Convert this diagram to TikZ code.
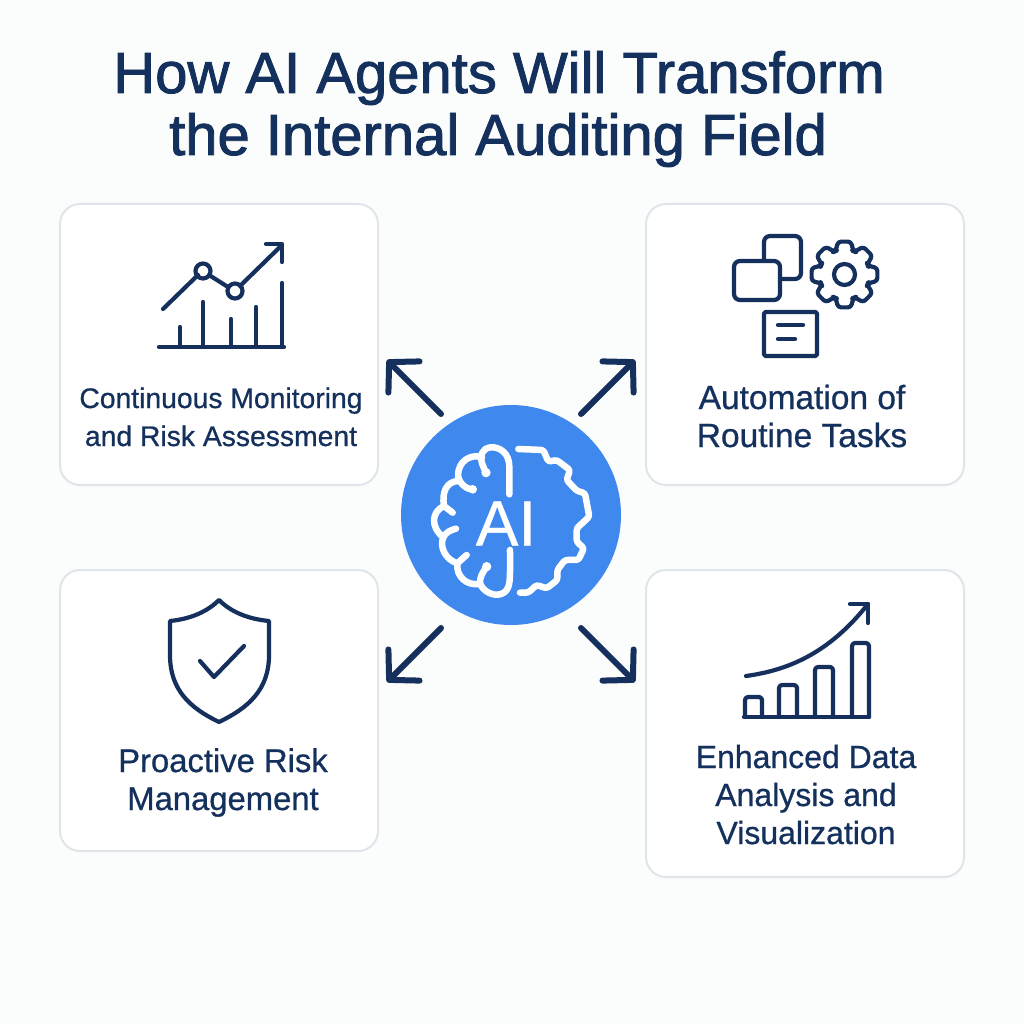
\documentclass[tikz,border=0pt]{standalone}
\usepackage{fontspec}
\setmainfont{Liberation Sans}
\newfontfamily\titlefont[FakeBold=1.6]{Liberation Sans}
\newfontfamily\labelfont[FakeBold=0.7]{Liberation Sans}
\newfontfamily\aifont[FakeBold=0.5]{Liberation Sans}
\usetikzlibrary{arrows.meta}
\definecolor{navy}{HTML}{16305E}
\definecolor{titlenavy}{HTML}{14305C}
\definecolor{cardline}{HTML}{DFE5EA}
\definecolor{pagebg}{HTML}{FBFCFC}
\definecolor{hubblue}{HTML}{3F88EE}
\tikzset{
  card/.style={draw=cardline,line width=2pt,fill=white,rounded corners=20pt,inner sep=0pt,outer sep=0pt,anchor=north west},
  cardtext/.style={font=\labelfont\fontsize{#1}{38}\selectfont,text=titlenavy,align=center,inner sep=0pt,anchor=base},
  titletext/.style={font=\titlefont\fontsize{58}{62}\selectfont,text=titlenavy,align=center,inner sep=0pt,anchor=base},
  hubnode/.style={circle,fill=hubblue,minimum size=220pt,inner sep=0pt},
  bigarrow/.style={draw=navy,line width=6pt,line cap=round,line join=round,-{Straight Barb[round,length=21pt,width=44pt]}},
  icon/.style={draw=navy,line width=4.2pt,line cap=round,line join=round},
  brain/.style={draw=white,line width=6.5pt,line cap=round,line join=round}
}
\begin{document}
\begin{tikzpicture}[x=1pt,y=-1pt]
\useasboundingbox (0,0) rectangle (1024,1024);
\fill[pagebg] (0,0) rectangle (1024,1024);
% title
\node[titletext] (title1) at (499,93) {How AI Agents Will Transform};
\node[titletext] (title2) at (498,155) {the Internal Auditing Field};
% cards
\node[card,minimum width=318pt,minimum height=281pt] (cardTL) at (60,204) {};
\node[card,minimum width=318pt,minimum height=281pt] (cardTR) at (646,204) {};
\node[card,minimum width=318pt,minimum height=281pt] (cardBL) at (60,570) {};
\node[card,minimum width=318pt,minimum height=307pt] (cardBR) at (646,570) {};
% card labels
\node[cardtext=28.3] (labelTL) at (221,446) {Continuous Monitoring\\and Risk Assessment};
\node[cardtext=33.5] (labelTR) at (802,447) {Automation of\\Routine Tasks};
\node[cardtext=32.8] (labelBL) at (223,810) {Proactive Risk\\Management};
\node[cardtext=32] (labelBR) at (806,844) {Enhanced Data\\Analysis and\\Visualization};
% hub
\node[hubnode] (hub) at (511,515) {};
% arrows
\coordinate (tailTL) at (441,414);
\coordinate (tailTR) at (581,414);
\coordinate (tailBL) at (441,628);
\coordinate (tailBR) at (581,628);
\coordinate (tipTL) at (387,360);
\coordinate (tipTR) at (635,360);
\coordinate (tipBL) at (387,682);
\coordinate (tipBR) at (635,682);
\draw[bigarrow] (tailTL) -- (tipTL);
\draw[bigarrow] (tailTR) -- (tipTR);
\draw[bigarrow] (tailBL) -- (tipBL);
\draw[bigarrow] (tailBR) -- (tipBR);
% brain icon
\begin{scope}[shift={(400,400)},x=0.3333pt,y=-0.3333pt]
\draw[brain] (328,283) -- (328,200) .. controls (328,160) and (300,140) .. (272,142) .. controls (245,145) and (238,170) .. (246,190) -- (258,220);
\draw[brain] (246,172) .. controls (210,160) and (175,185) .. (174,225) .. controls (175,245) and (195,268) .. (218,268);
\draw[brain] (174,243) .. controls (140,245) and (125,275) .. (132,318) -- (158,338);
\draw[brain] (132,318) .. controls (95,335) and (90,380) .. (130,412) .. controls (135,400) and (150,390) .. (168,386);
\draw[brain] (130,412) .. controls (118,440) and (135,478) .. (172,490) -- (200,465);
\draw[brain] (172,490) .. controls (168,530) and (200,558) .. (240,552) .. controls (238,530) and (250,515) .. (260,500);
\draw[brain] (240,552) .. controls (260,590) and (305,592) .. (320,570) .. controls (332,552) and (330,530) .. (330,450);
\fill[white] (258,218) circle (14) (218,268) circle (13) (260,500) circle (14);
\draw[brain,rounded corners=2.5pt] (355,147) -- (430,150) -- (445,185) -- (470,180) -- (510,210) -- (500,240) -- (530,272) -- (555,280) -- (568,350) -- (530,385) -- (530,425) -- (552,445) -- (535,480) -- (495,480) -- (472,510) -- (472,540) -- (440,565) -- (410,555) -- (385,578) -- (360,578);
\end{scope}
\node[font=\aifont\fontsize{64}{64}\selectfont,text=white,inner sep=0pt,anchor=base] (aitext) at (506,545.5) {AI};
% TL icon
\draw[icon] (159,347) -- (284,347);
\draw[icon] (282,283) -- (282,347);
\draw[icon] (180,327) -- (180,347);
\draw[icon] (203,302) -- (203,347);
\draw[icon] (231,319) -- (231,347);
\draw[icon] (256,307) -- (256,347);
\draw[icon] (163,309) -- (198,275);
\draw[icon] (209,275) -- (228,287);
\draw[icon] (240,286) -- (282,245);
\draw[icon] (266,244) -- (282,244) -- (282,262);
\draw[icon] (203,271) circle (7.5);
\draw[icon] (235,291) circle (7.5);
% TR icon
\draw[icon,rounded corners=6pt] (764,261) -- (764,236) -- (801,236) -- (801,279) -- (780,279);
\draw[icon,fill=white,rounded corners=6pt] (734,261) rectangle (780,300);
\draw[icon,rounded corners=1.5pt] (764,312) rectangle (817,356);
\draw[icon] (778,325) -- (803,325);
\draw[icon] (778,339) -- (795,339);
\begin{scope}[shift={(844.5,274.5)}]
\draw[icon,rounded corners=3pt] (69:25) -- (79:33.5) -- (101:33.5) -- (111:25) \foreach \a in {45,90,...,315} { -- (\a+69:25) -- (\a+79:33.5) -- (\a+101:33.5) -- (\a+111:25)} -- cycle;
\draw[icon] (0,0) circle (10.5);
\end{scope}
% BL icon
\draw[icon] (219,600) .. controls (207,612) and (190,619) .. (170,621) -- (170,655) .. controls (170,690) and (190,708) .. (219,722) .. controls (248,708) and (269,690) .. (269,655) -- (269,621) .. controls (248,619) and (231,612) .. (219,600) -- cycle;
\draw[icon] (200,661) -- (214,677) -- (244,646);
% BR icon
\draw[icon] (744,717) -- (869,717);
\draw[icon,rounded corners=3pt] (745,717) -- (745,697) -- (762,697) -- (762,717);
\draw[icon,rounded corners=3pt] (779,717) -- (779,685) -- (797,685) -- (797,717);
\draw[icon,rounded corners=3pt] (815,717) -- (815,667) -- (833,667) -- (833,717);
\draw[icon,rounded corners=3pt] (852,717) -- (852,643) -- (869,643) -- (869,717);
\draw[icon] (746,676) .. controls (790,670) and (830,652) .. (868,604);
\draw[icon] (850,604) -- (868,604) -- (868,623);
\end{tikzpicture}
\end{document}
